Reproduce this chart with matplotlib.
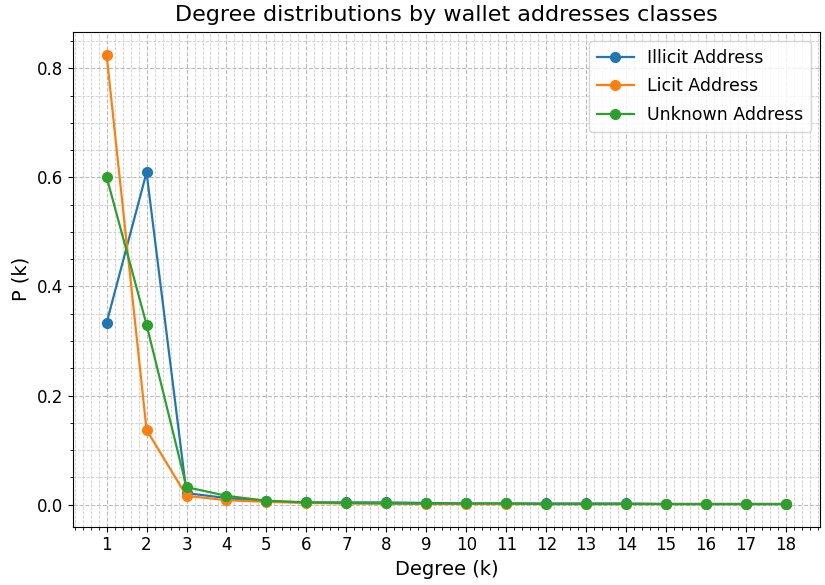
import matplotlib
matplotlib.use("Agg")
import matplotlib.pyplot as plt
from matplotlib.ticker import AutoMinorLocator

degrees = list(range(1, 19))
illicit = [0.333, 0.609, 0.021, 0.012, 0.006, 0.004, 0.004, 0.004, 0.003,
           0.002, 0.002, 0.002, 0.002, 0.002, 0.001, 0.001, 0.001, 0.001]
licit = [0.825, 0.137, 0.016, 0.008, 0.005, 0.003, 0.002, 0.002, 0.001,
         0.001, 0.001, 0.001, 0.001, 0.001, 0.001, 0.001, 0.001, 0.001]
unknown = [0.601, 0.330, 0.032, 0.016, 0.007, 0.004, 0.003, 0.002, 0.002,
           0.002, 0.002, 0.001, 0.001, 0.001, 0.001, 0.001, 0.001, 0.001]
series_names = ["Illicit Address", "Licit Address", "Unknown Address"]
title = "Degree distributions by wallet addresses classes"

fig, ax = plt.subplots(figsize=(8.25, 5.85), dpi=100)
for vals, name in zip([illicit, licit, unknown], series_names):
    ax.plot(degrees, vals, marker="o", markersize=7, linewidth=1.6, label=name)

ax.set_xticks(degrees)
ax.xaxis.set_minor_locator(AutoMinorLocator(5))
ax.yaxis.set_minor_locator(AutoMinorLocator(4))
ax.grid(which="major", color="#bbbbbb", linestyle="--", linewidth=0.8)
ax.grid(which="minor", color="#cccccc", linestyle="--", linewidth=0.6)
ax.set_axisbelow(True)
ax.tick_params(labelsize=12)
ax.set_xlabel("Degree (k)", fontsize=14)
ax.set_ylabel("P (k)", fontsize=14)
ax.set_title(title, fontsize=16, pad=8)
ax.legend(fontsize=12.5, loc="upper right", labelspacing=0.62, borderpad=0.45,
          handlelength=2.1)
fig.subplots_adjust(left=0.088, right=0.994, top=0.945, bottom=0.1)
fig.savefig("out.png", dpi=100)
